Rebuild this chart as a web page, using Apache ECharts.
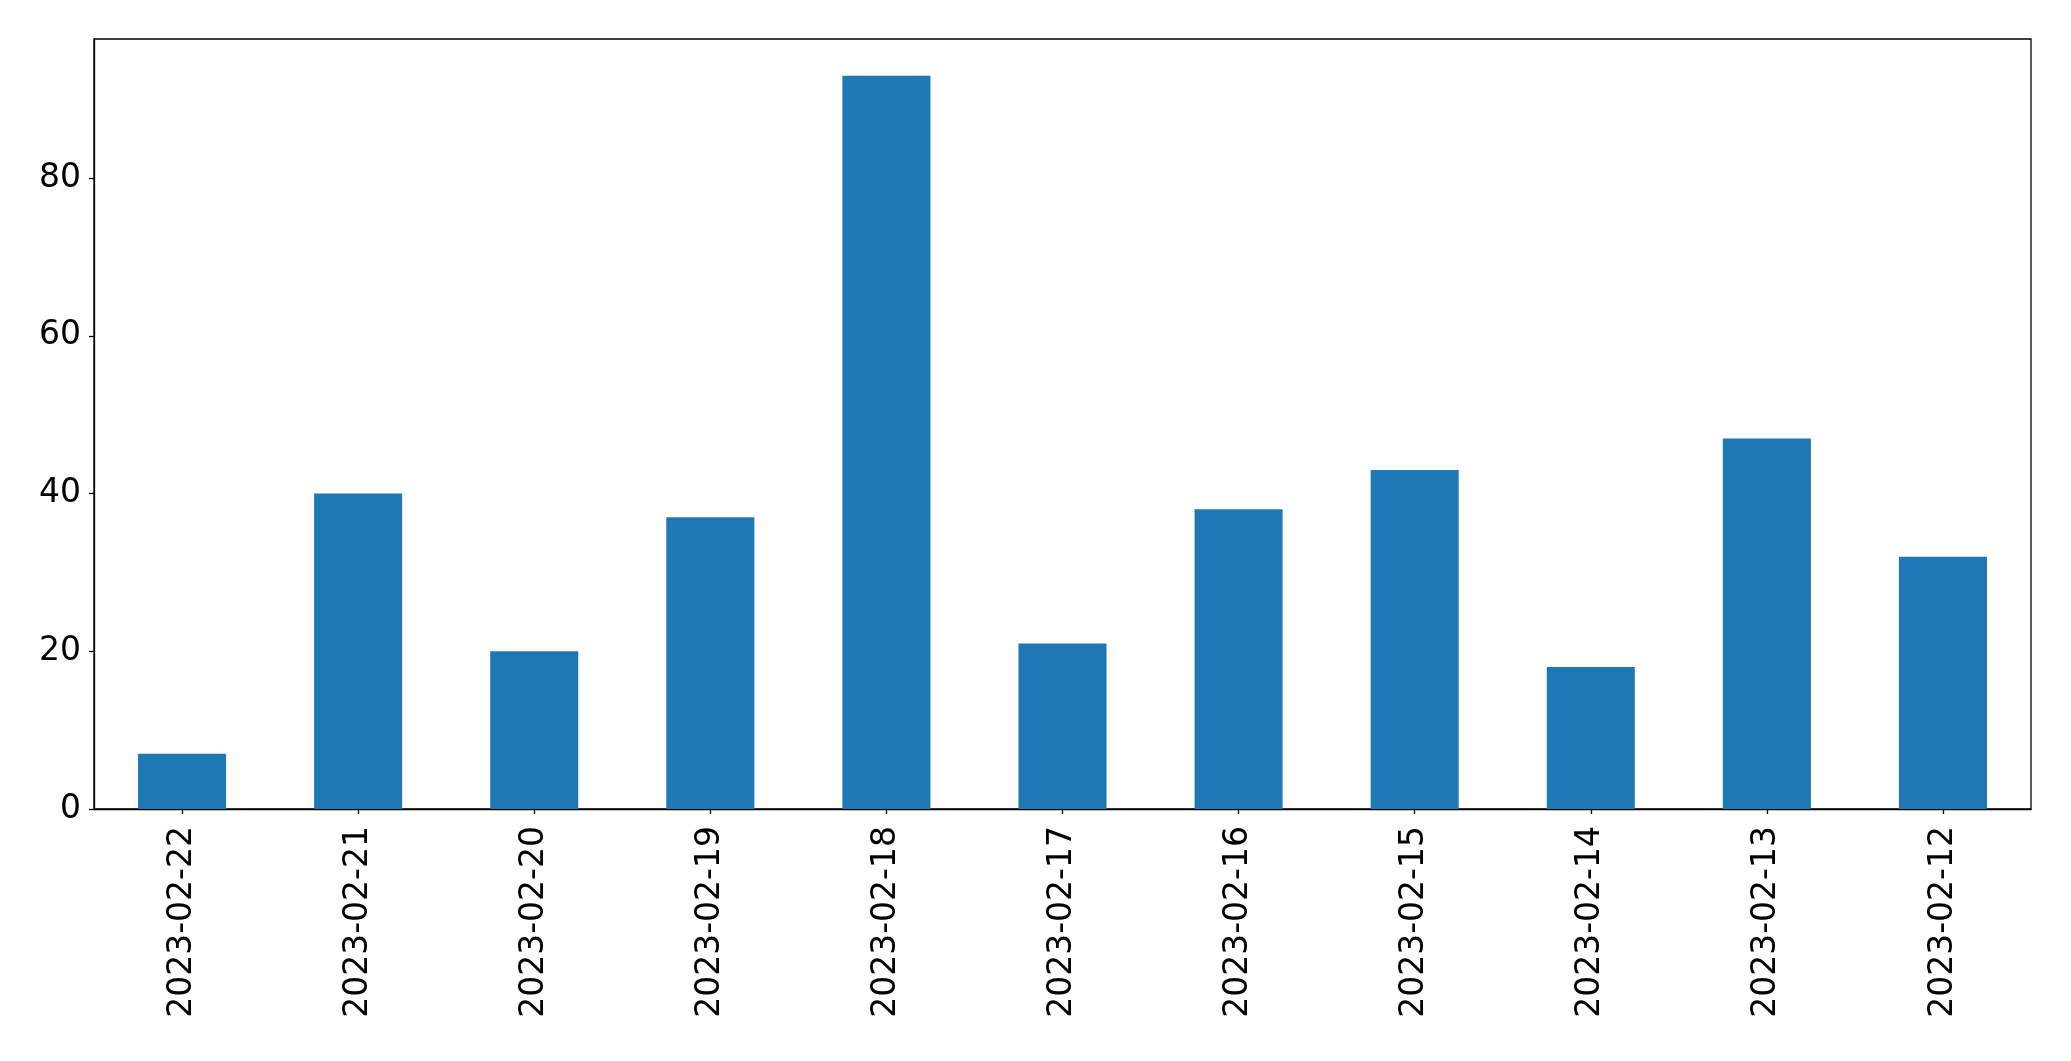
<!DOCTYPE html>
<html>
<head>
<meta charset="utf-8">
<script src="https://cdn.jsdelivr.net/npm/echarts@6/dist/echarts.min.js"></script>
<style>
html,body{margin:0;padding:0;background:#fff;}
#chart{width:2071px;height:1061px;}
</style>
</head>
<body>
<div id="chart"></div>
<script>
const categories = ["2023-02-22","2023-02-21","2023-02-20","2023-02-19","2023-02-18","2023-02-17","2023-02-16","2023-02-15","2023-02-14","2023-02-13","2023-02-12"];
const values = [7, 40, 20, 37, 93, 21, 38, 43, 18, 47, 32];
const yTicks = [0, 20, 40, 60, 80];
const yMax = 97.65;

const chart = echarts.init(document.getElementById('chart'), null, {renderer: 'canvas'});
const font = 'DejaVu Sans';
chart.setOption({
  animation: false,
  backgroundColor: '#ffffff',
  grid: {
    left: 94, top: 39, right: 40, bottom: 252,
    containLabel: false,
    show: true, borderColor: '#000000', borderWidth: 1.3, backgroundColor: 'transparent'
  },
  xAxis: {
    type: 'category',
    data: categories,
    boundaryGap: true,
    axisLine: {show: true, lineStyle: {color: '#000000', width: 1.3}},
    axisTick: {show: true, alignWithLabel: true, length: 5, lineStyle: {color: '#000000', width: 1.3}},
    axisLabel: {rotate: 90, margin: 17, color: '#000000', fontSize: 33, fontFamily: font},
    splitLine: {show: false}
  },
  yAxis: {
    type: 'value',
    min: 0,
    max: yMax,
    interval: 20,
    axisLine: {show: true, lineStyle: {color: '#000000', width: 1.3}},
    axisTick: {show: true, length: 5, lineStyle: {color: '#000000', width: 1.3}, customValues: yTicks},
    axisLabel: {margin: 13, color: '#000000', fontSize: 33, fontFamily: font, customValues: yTicks},
    splitLine: {show: false}
  },
  series: [{
    type: 'bar',
    data: values,
    barWidth: '50%',
    itemStyle: {color: '#1f77b4'}
  }]
});
</script>
</body>
</html>
